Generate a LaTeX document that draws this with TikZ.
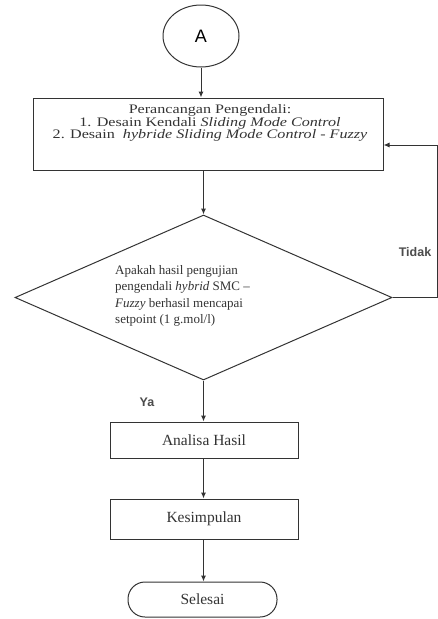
\documentclass[tikz,border=0pt]{standalone}
\usepackage{fontspec}
\setmainfont{Liberation Serif}
\newfontfamily\wideserif[FakeStretch=1.24]{Liberation Serif}
\newfontfamily\armo{Liberation Sans}
\usetikzlibrary{shapes.geometric,arrows.meta}
\definecolor{ink}{gray}{0.2}
\tikzset{
  shp/.style={draw=ink, line width=1pt, inner sep=0pt},
  procbox/.style={shp, rectangle, minimum width=188pt, minimum height=36pt, font=\fontsize{15.5}{17}\selectfont, text=ink},
  conn/.style={draw=ink, line width=1pt, -{Latex[length=6pt,width=5pt]}},
  lbl/.style={font=\armo\bfseries\fontsize{12.5}{14}\selectfont, text=black!70, inner sep=0pt},
}
\begin{document}
\begin{tikzpicture}[x=1pt,y=-1pt]
\useasboundingbox (0,0) rectangle (438,619);
\node[shp, ellipse, minimum width=76pt, minimum height=62pt, font=\armo\fontsize{18}{20}\selectfont] (start) at (201,36) {A};
\node[shp, rectangle, minimum width=350pt, minimum height=72pt] (design) at (208,134) {};
\node[align=center, inner sep=0pt, font=\wideserif\fontsize{13}{11.8}\selectfont, text=ink] (designtext) at (210,123)
  {Perancangan Pengendali:\\1. Desain Kendali \textit{Sliding Mode Control}\\2. Desain~ \textit{hybride Sliding Mode Control - Fuzzy}};
\node[shp, diamond, minimum width=377pt, minimum height=165pt] (dec) at (203.5,297.5) {};
\node[anchor=west, align=left, inner sep=0pt, font=\fontsize{13}{16.5}\selectfont, text=ink] (dectext) at (115,296)
  {Apakah hasil pengujian\\pengendali \textit{hybrid} SMC –\\\textit{Fuzzy} berhasil mencapai\\setpoint (1 g.mol/l)};
\node[procbox] (anal) at (204,440) {Analisa Hasil};
\node[procbox, minimum height=40pt] (kes) at (204,519) {Kesimpulan};
\node[shp, rectangle, rounded corners=17pt, minimum width=149pt, minimum height=35pt,
      font=\fontsize{15.5}{17}\selectfont, text=ink] (end) at (202.5,599.5) {Selesai};
\coordinate (fbR) at (437,297.5);
\coordinate (fbT) at (437,145);
\node[lbl] (tidak) at (415,252) {Tidak};
\node[lbl] (ya) at (147,402) {Ya};
\draw[conn] (start.south) -- (start.south |- design.north);
\draw[conn] (design.south -| dec.north) -- (dec.north);
\draw[conn] (dec.south) -- (dec.south |- anal.north);
\draw[conn] (anal.south -| dec.south) -- (dec.south |- kes.north);
\draw[conn] (kes.south -| dec.south) -- (dec.south |- end.north);
\draw[conn] (dec.east) -- (fbR) -- (fbT) -- (fbT -| design.east);
\end{tikzpicture}
\end{document}
